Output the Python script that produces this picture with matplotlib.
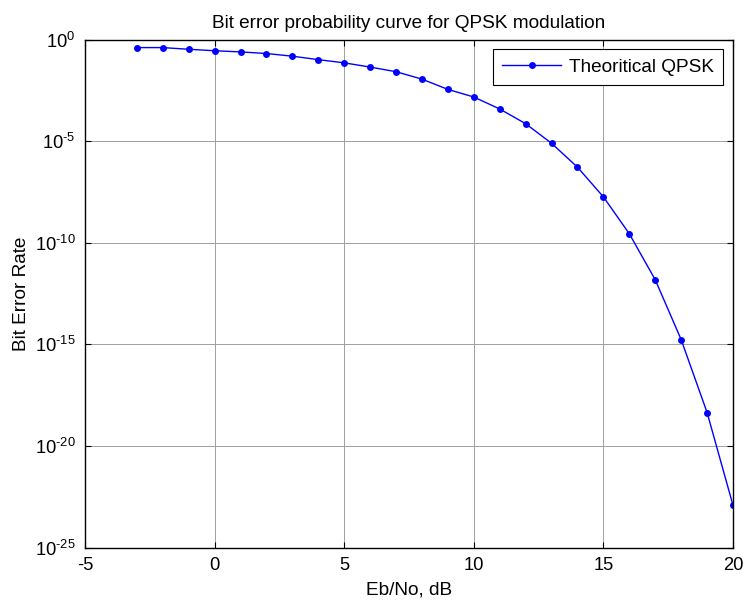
import math
import matplotlib
matplotlib.use("Agg")
import matplotlib.pyplot as plt
from matplotlib.ticker import FixedLocator, NullLocator, FuncFormatter

plt.rcParams['font.family'] = ['Liberation Sans', 'DejaVu Sans']
plt.rcParams['mathtext.fontset'] = 'custom'
plt.rcParams['mathtext.rm'] = 'Liberation Sans'
plt.rcParams['mathtext.it'] = 'Liberation Sans'
plt.rcParams['axes.unicode_minus'] = False

ebno_db = [-3, -2, -1, 0, 1, 2, 3, 4, 5, 6, 7, 8, 9, 10, 11, 12, 13, 14, 15, 16, 17, 18, 19, 20]
ber = [0.40, 0.40, 0.33, 0.28, 0.245, 0.204, 0.151, 0.102, 0.071, 0.044, 0.026, 0.0112,
       3.5e-3, 1.48e-3, 3.8e-4, 7.2e-5, 7.8e-6, 5.2e-7, 1.8e-8, 2.75e-10, 1.5e-12,
       1.7e-15, 4.4e-19, 1.2e-23]
x_ticks = [-5, 0, 5, 10, 15, 20]
y_exps = [-25, -20, -15, -10, -5, 0]

W, H = 745, 600
L, R, T, B = 85, 733, 39.5, 547.5

fig = plt.figure(figsize=(W / 100, H / 100), dpi=100)
ax = fig.add_axes([L / W, (H - B) / H, (R - L) / W, (B - T) / H])

ax.semilogy(ebno_db, ber, color='#0000ff', linewidth=1.0, marker='o', markersize=5,
            markeredgewidth=0, label='Theoritical QPSK')
ax.set_xlim(-5, 20)
ax.set_ylim(1e-25, 1e0)
ax.xaxis.set_major_locator(FixedLocator(x_ticks))
ax.yaxis.set_major_locator(FixedLocator([10.0 ** e for e in y_exps]))
ax.yaxis.set_minor_locator(NullLocator())
ax.xaxis.set_minor_locator(NullLocator())


def fmt(v, p):
    e = int(round(math.log10(v)))
    if e < 0:
        return r'$10^{\text{-}%d}$' % (-e)
    return r'$10^{%d}$' % e


ax.yaxis.set_major_formatter(FuncFormatter(fmt))
ax.tick_params(which='both', direction='in', top=True, right=True, length=4.5,
               labelsize=13.2, width=0.8)
ax.tick_params(axis='x', pad=7)
ax.tick_params(axis='y', pad=7)
ax.grid(True, color='#a0a0a0', linewidth=0.7, linestyle='-')
for s in ax.spines.values():
    s.set_linewidth(1.0)
    s.set_color('black')

ax.set_title('Bit error probability curve for QPSK modulation', fontsize=13.7, pad=8)
ax.set_xlabel('Eb/No, dB', fontsize=13.7, labelpad=5)
ax.set_ylabel('Bit Error Rate', fontsize=13.7, labelpad=3)

leg = ax.legend(loc='upper right', fontsize=13.7, fancybox=False, framealpha=1,
                edgecolor='black', borderaxespad=0.5, borderpad=0.5,
                handlelength=3.1, handletextpad=0.4)
leg.get_frame().set_linewidth(0.8)

fig.savefig('out.png', dpi=100)
